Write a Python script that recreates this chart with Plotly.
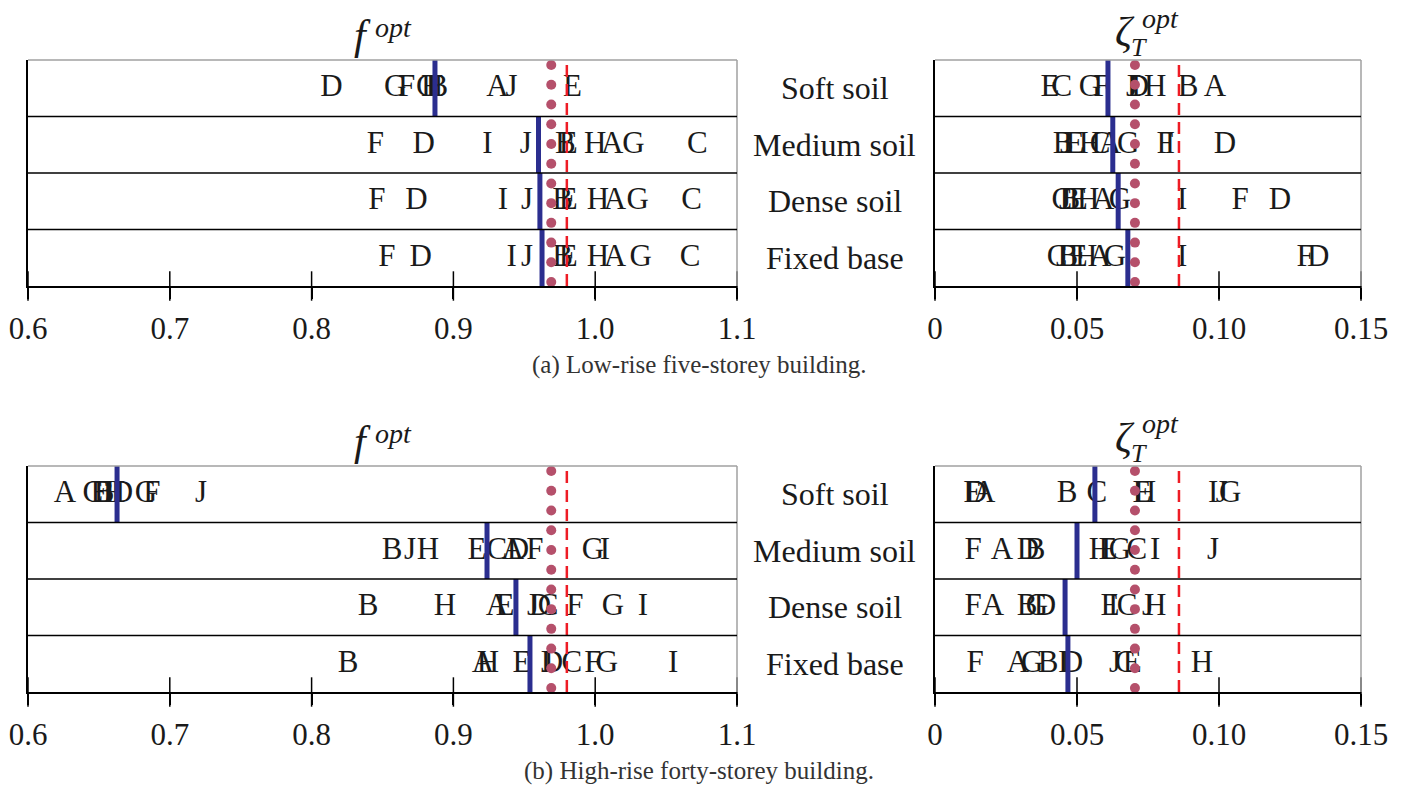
import numpy as np
import plotly.graph_objects as go

LETTERS = list("ABCDEFGHIJ")
ROWS = ["Soft soil", "Medium soil", "Dense soil", "Fixed base"]

# ---------- (a) Low-rise five-storey building ----------
# f_opt, letters A..J, rows: soft, medium, dense, fixed
low_f_soft   = [0.931, 0.889, 0.881, 0.814, 0.984, 0.867, 0.859, 0.885, 0.884, 0.941]
low_f_medium = [1.012, 0.979, 1.072, 0.879, 0.981, 0.845, 1.027, 1.000, 0.924, 0.951]
low_f_dense  = [1.014, 0.977, 1.068, 0.874, 0.981, 0.846, 1.030, 1.002, 0.935, 0.952]
low_f_fixed  = [1.014, 0.977, 1.067, 0.877, 0.981, 0.853, 1.032, 1.002, 0.941, 0.952]
low_f_blue   = [0.887, 0.960, 0.961, 0.9625]

# zeta_T_opt
low_z_soft   = [0.0986, 0.0891, 0.0447, 0.0715, 0.0405, 0.0588, 0.0546, 0.0775, 0.0708, 0.0694]
low_z_medium = [0.0616, 0.0451, 0.0581, 0.1021, 0.0493, 0.0810, 0.0680, 0.0546, 0.0827, 0.0461]
low_z_dense  = [0.0592, 0.0475, 0.0447, 0.1215, 0.0504, 0.1074, 0.0651, 0.0539, 0.0870, 0.0458]
low_z_fixed  = [0.0581, 0.0468, 0.0430, 0.1349, 0.0504, 0.1303, 0.0634, 0.0532, 0.0870, 0.0447]
low_z_blue   = [0.0609, 0.0626, 0.0645, 0.0679]

# ---------- (b) High-rise forty-storey building ----------
high_f_soft   = [0.626, 0.6536, 0.6458, 0.6663, 0.6508, 0.6874, 0.6832, 0.6606, 0.6578, 0.722]
high_f_medium = [0.942, 0.8567, 0.9307, 0.9456, 0.9166, 0.9575, 0.9984, 0.8821, 1.0069, 0.8694]
high_f_dense  = [0.9307, 0.8398, 0.9667, 0.9611, 0.9364, 0.9857, 1.0125, 0.8941, 1.0337, 0.9561]
high_f_fixed  = [0.9209, 0.8257, 0.9836, 0.9695, 0.9484, 0.9984, 1.0083, 0.9244, 1.0549, 0.966]
high_f_blue   = [0.6628, 0.9237, 0.9441, 0.954]

high_z_soft   = [0.0173, 0.0465, 0.0570, 0.0144, 0.0729, 0.0130, 0.1039, 0.0739, 0.0979, 0.1010]
high_z_medium = [0.0236, 0.0352, 0.0711, 0.0327, 0.0609, 0.0134, 0.0651, 0.0581, 0.0775, 0.0979]
high_z_dense  = [0.0204, 0.0324, 0.0676, 0.0387, 0.0616, 0.0134, 0.0359, 0.0775, 0.0627, 0.0750]
high_z_fixed  = [0.0292, 0.0398, 0.0669, 0.0482, 0.0694, 0.0141, 0.0342, 0.0940, 0.0451, 0.0634]
high_z_blue   = [0.0563, 0.0500, 0.0458, 0.0468]

# reference lines
f_dotted, f_dashed = 0.969, 0.980
z_dotted, z_dashed = 0.0704, 0.0859

f_ticks = [0.6, 0.7, 0.8, 0.9, 1.0, 1.1]
f_ticktext = ["0.6", "0.7", "0.8", "0.9", "1.0", "1.1"]
z_ticks = [0.0, 0.05, 0.10, 0.15]
z_ticktext = ["0", "0.05", "0.10", "0.15"]

FONT = "Liberation Serif"
W, H = 1403, 787
BLUE = "#2b2e8f"
RED = "#ee1c25"
PURPLE = "#b5506b"
GRAY = "#a0a0a0"
TXT = "#1a1a1a"

panels = [
    ("", [low_f_soft, low_f_medium, low_f_dense, low_f_fixed], low_f_blue, f_dotted, f_dashed),
    ("2", [low_z_soft, low_z_medium, low_z_dense, low_z_fixed], low_z_blue, z_dotted, z_dashed),
    ("3", [high_f_soft, high_f_medium, high_f_dense, high_f_fixed], high_f_blue, f_dotted, f_dashed),
    ("4", [high_z_soft, high_z_medium, high_z_dense, high_z_fixed], high_z_blue, z_dotted, z_dashed),
]

fig = go.Figure()
dot_y = np.linspace(0.07, 3.91, 12)

for ax, rows, blue, dotted, dashed in panels:
    xa, ya = "x" + ax, "y" + ax
    for r, vals in enumerate(rows):
        fig.add_trace(go.Scatter(
            x=vals, y=[3.5 - r] * len(vals), text=LETTERS, mode="text",
            textposition="middle center",
            textfont=dict(family=FONT, size=31, color=TXT),
            xaxis=xa, yaxis=ya, showlegend=False, hoverinfo="skip"))
    bx, by = [], []
    for r, v in enumerate(blue):
        bx += [v, v, None]
        by += [3 - r, 4 - r, None]
    fig.add_trace(go.Scatter(x=bx, y=by, mode="lines", line=dict(color=BLUE, width=5),
                             xaxis=xa, yaxis=ya, showlegend=False, hoverinfo="skip"))
    fig.add_trace(go.Scatter(x=[dotted] * len(dot_y), y=dot_y, mode="markers",
                             marker=dict(color=PURPLE, size=10),
                             xaxis=xa, yaxis=ya, showlegend=False, hoverinfo="skip"))
    fig.add_trace(go.Scatter(x=[dashed, dashed], y=[0, 4], mode="lines",
                             line=dict(color=RED, width=2.5, dash="12px,7px"),
                             xaxis=xa, yaxis=ya, showlegend=False, hoverinfo="skip"))

# tick crossing marks (upper half) drawn at the tick values
for ax, ticks in [("", f_ticks), ("2", z_ticks), ("3", f_ticks), ("4", z_ticks)]:
    fig.add_trace(go.Scatter(x=ticks, y=[0] * len(ticks), mode="markers",
                             marker=dict(symbol="line-ns", size=21,
                                         line=dict(color="black", width=1.5)),
                             cliponaxis=False, xaxis="x" + ax, yaxis="y" + ax,
                             showlegend=False, hoverinfo="skip"))

def px_x(p):
    return p / W

def px_y(p):
    return (H - p) / H

left_dom = [px_x(28), px_x(737)]
right_dom = [px_x(935), px_x(1361)]
top_dom = [px_y(286), px_y(60)]
bot_dom = [px_y(692), px_y(466)]

def xaxis(dom, anchor, rng, tv, tt):
    return dict(domain=dom, anchor=anchor, range=rng, tickvals=tv, ticktext=tt,
                showline=True, linecolor="black", linewidth=1.5,
                ticks="outside", ticklen=11, tickwidth=1.5, tickcolor="black",
                showgrid=False, zeroline=False, fixedrange=True, automargin=False,
                tickfont=dict(family=FONT, size=31, color=TXT),
                ticklabelstandoff=3)

def yaxis(dom, anchor):
    return dict(domain=dom, anchor=anchor, range=[0, 4], showline=True, linecolor="black",
                linewidth=1.5, showticklabels=False, ticks="", showgrid=False,
                zeroline=False, fixedrange=True, automargin=False)

fig.update_layout(
    width=W, height=H, margin=dict(l=0, r=0, t=0, b=0, autoexpand=False),
    paper_bgcolor="white", plot_bgcolor="white",
    xaxis=xaxis(left_dom, "y", [0.6, 1.1], f_ticks, f_ticktext),
    yaxis=yaxis(top_dom, "x"),
    xaxis2=xaxis(right_dom, "y2", [0, 0.15], z_ticks, z_ticktext),
    yaxis2=yaxis(top_dom, "x2"),
    xaxis3=xaxis(left_dom, "y3", [0.6, 1.1], f_ticks, f_ticktext),
    yaxis3=yaxis(bot_dom, "x3"),
    xaxis4=xaxis(right_dom, "y4", [0, 0.15], z_ticks, z_ticktext),
    yaxis4=yaxis(bot_dom, "x4"),
)

shapes = []
for ax in ["", "2", "3", "4"]:
    xd, yd = "x" + ax + " domain", "y" + ax + " domain"
    shapes.append(dict(type="line", xref=xd, yref=yd, x0=0, x1=1, y0=1, y1=1,
                       line=dict(color=GRAY, width=1.5)))
    shapes.append(dict(type="line", xref=xd, yref=yd, x0=1, x1=1, y0=0, y1=1,
                       line=dict(color=GRAY, width=1.5)))
    for b in [1, 2, 3]:
        shapes.append(dict(type="line", xref=xd, yref="y" + ax, x0=0, x1=1, y0=b, y1=b,
                           line=dict(color="black", width=1.3)))
fig.update_layout(shapes=shapes)

def label(text, x, y, size, xanchor="center", color=TXT):
    return dict(text=text, x=px_x(x), y=px_y(y), xref="paper", yref="paper",
                showarrow=False, xanchor=xanchor, yanchor="middle",
                font=dict(family=FONT, size=size, color=color))

ann = []
for yref in ["y", "y3"]:
    for r, name in enumerate(ROWS):
        ann.append(dict(text=name, x=px_x(835), xref="paper", y=3.5 - r, yref=yref,
                        showarrow=False, xanchor="center", yanchor="middle",
                        font=dict(family=FONT, size=32, color=TXT)))
for off in [0, 406]:
    # f^opt
    ann.append(label("<i>f</i>", 362, 35 + off, 42))
    ann.append(label("<i>opt</i>", 393, 27 + off, 28))
    # zeta_T^opt
    ann.append(label("<i>ζ</i>", 1125, 32 + off, 42))
    ann.append(label("<i>opt</i>", 1160, 18 + off, 28))
    ann.append(label("<i>T</i>", 1139, 47 + off, 26))
ann.append(label("(a) Low-rise five-storey building.", 699, 365, 25, color="#333333"))
ann.append(label("(b) High-rise forty-storey building.", 699, 771, 25, color="#333333"))
fig.update_layout(annotations=ann)

fig.write_html("out.html")
